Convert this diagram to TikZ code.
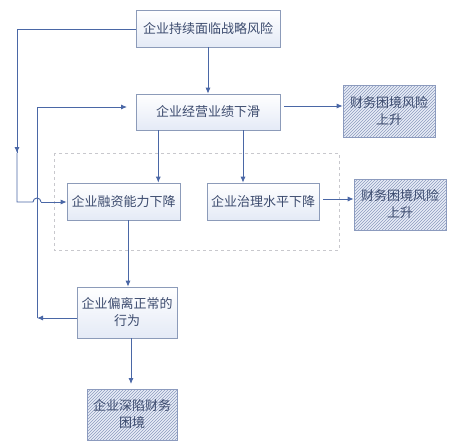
\documentclass[tikz,border=0pt]{standalone}
\usepackage{fontspec}
\setmainfont{Noto Sans CJK SC}
\usetikzlibrary{arrows.meta,patterns}
\definecolor{arr}{RGB}{74,103,166}
\definecolor{bd}{RGB}{140,155,185}
\definecolor{txt}{RGB}{60,75,110}
\definecolor{hatchbg}{RGB}{232,237,247}
\definecolor{hatchln}{RGB}{140,155,190}
\tikzset{
  box/.style={draw=bd, line width=0.6pt, top color=white, bottom color={rgb,255:red,228;green,234;blue,246},
    text=txt, font=\fontsize{13}{17}\selectfont, align=center, inner sep=0pt},
  hbox/.style={draw=hatchln, line width=0.6pt, fill=hatchbg, text=txt,
    font=\fontsize{13}{17}\selectfont, align=center, inner sep=0pt,
    postaction={pattern=north east lines, pattern color=hatchln}},
  link/.style={draw=arr, line width=0.9pt},
  arrowlink/.style={link, -{Latex[length=6pt,width=5pt]}}
}
\begin{document}
\begin{tikzpicture}[x=1pt,y=-1pt]
\useasboundingbox (0,0) rectangle (460,447);
\fill[white] (0,0) rectangle (460,447);
% dashed group
\draw[draw={rgb,255:red,200;green,200;blue,205}, dashed, line width=0.6pt] (54,153) rectangle (339,250);
% boxes
\node[box, minimum width=144pt, minimum height=37pt] (b1) at (208,28.5) {企业持续面临战略风险};
\node[box, minimum width=144pt, minimum height=36pt] (b2) at (208,112) {企业经营业绩下滑};
\node[box, minimum width=113pt, minimum height=37pt] (b3) at (123.5,201.5) {企业融资能力下降};
\node[box, minimum width=112pt, minimum height=37pt] (b4) at (263,201.5) {企业治理水平下降};
\node[box, minimum width=100pt, minimum height=51pt] (b5) at (127,312.5) {企业偏离正常的\\行为};
\node[hbox, minimum width=92pt, minimum height=52pt] (r1) at (389,111) {财务困境风险\\上升};
\node[hbox, minimum width=92pt, minimum height=51pt] (r2) at (400,204.5) {财务困境风险\\上升};
\node[hbox, minimum width=90pt, minimum height=51pt] (b6) at (132,414.5) {企业深陷财务\\困境};
% coordinates
\coordinate (c1) at (17,29);
\coordinate (c2) at (17,153);
\coordinate (c3) at (17,202);
\coordinate (j1) at (33,202);
\coordinate (L) at (37,318);
\coordinate (c4) at (37,107);
\coordinate (e2) at (127,107);
% connectors
\draw[arrowlink] (b1.south) -- (b2.north);
\draw[link] (b1.west |- c1) -- (c1) -- (c2);
\draw[arrowlink] ([yshift=6pt]c2) -- (c2);
\draw[link] (c2) -- (c3) -- (j1) arc[start angle=180, end angle=0, radius=4pt];
\draw[arrowlink] ([xshift=8pt]j1) -- (b3.west |- c3);
\draw[arrowlink] (b5.west |- L) -- (L);
\draw[arrowlink] (L) -- (c4) -- (e2);
\draw[arrowlink] (b2.south -| b3.north east) ++(-22pt,0) coordinate (s23) -- (s23 |- b3.north);
\draw[arrowlink] (243,130) coordinate (s24) -- (s24 |- b4.north);
\draw[arrowlink] ([xshift=4pt,yshift=6pt]b2.east) coordinate (s2r) -- (s2r -| r1.west);
\draw[arrowlink] ([xshift=4pt,yshift=2.5pt]b4.east) coordinate (s4r) -- (s4r -| r2.west);
\draw[arrowlink] (128,220) coordinate (s35) -- (s35 |- b5.north);
\draw[arrowlink] (131,338) coordinate (s56) -- (131,384);
\end{tikzpicture}
\end{document}
